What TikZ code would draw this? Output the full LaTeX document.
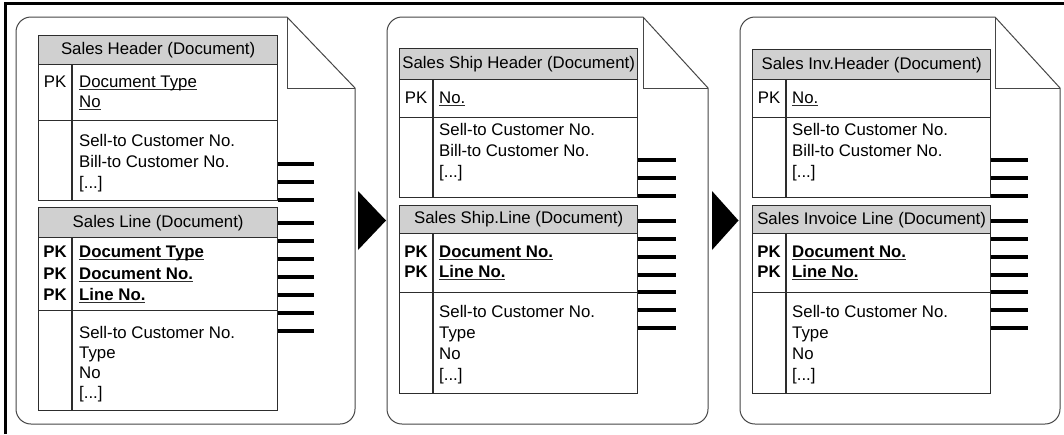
\documentclass[tikz,border=0pt]{standalone}
\usepackage{fontspec}
\setmainfont{Liberation Sans}
\usetikzlibrary{calc}
\definecolor{bandc}{RGB}{208,208,208}
\definecolor{tline}{RGB}{45,45,45}
\definecolor{dline}{RGB}{70,70,70}
\newcommand\ulx[1]{\sbox0{#1}\rlap{\textcolor{tline}{\rule[-2.6pt]{\wd0}{1.1pt}}}\usebox0}
\tikzset{
  fnt/.style={font=\fontsize{16.8}{20}\selectfont},
  band/.style={fnt,draw=tline,line width=1.3pt,fill=bandc,inner sep=0pt,anchor=north west},
  sect/.style={draw=tline,line width=1.3pt,inner sep=0pt,anchor=north west},
  divl/.style={draw=tline,line width=1.3pt},
  pk/.style={fnt,anchor=base,inner sep=0pt},
  fld/.style={fnt,anchor=base west,inner sep=0pt},
  stub/.style={draw=black,line width=4pt},
  doc/.style={draw=dline,line width=1pt},
  frame/.style={draw=black,line width=3pt},
  arr/.style={fill=black}
}
% #1 prefix, #2 left, #3 right, #4 top, #5 band bottom, #6 pk bottom, #7 bottom, #8 title
\newcommand\tablebox[8]{%
  \node[band,minimum width={#3-#2},minimum height={#5-#4}] (#1t) at (#2,#4) {#8};
  \node[sect,minimum width={#3-#2},minimum height={#6-#5}] (#1p) at (#2,#5) {};
  \node[sect,minimum width={#3-#2},minimum height={#7-#6}] (#1a) at (#2,#6) {};
  \draw[divl] ($(#1p.north west)+(34,0)$) -- ($(#1a.south west)+(34,0)$);
}
% #1 left, #2 fold x, #3 right
\newcommand\docshape[3]{%
  \draw[doc] (#1+15,17) -- (#2,17) -- (#3,88) -- (#3,409) arc(0:90:15) -- (#1+15,424) arc(90:180:15) -- (#1,32) arc(180:270:15) -- cycle;
  \draw[doc] (#2,17) -- (#2,88) -- (#3,88);
}
\begin{document}
\begin{tikzpicture}[x=1pt,y=-1pt]
\useasboundingbox (0,0) rectangle (1064,434);
\fill[white] (0,0) rectangle (1064,434);
% outer frame
\draw[frame] (5.5,434) -- (5.5,3.5) -- (1064,3.5);

% documents
\docshape{16}{287}{355}
\docshape{387}{643}{708}
\docshape{740}{995}{1060}

% arrows
\fill[arr] (358,191) -- (386,220.5) -- (358,250) -- cycle;
\fill[arr] (712,191) -- (738.5,220.5) -- (712,250) -- cycle;

% ---------- document 1 ----------
\tablebox{a}{38}{277}{35}{64}{120}{200}{Sales Header (Document)}
\node[pk] (akp) at (55,87) {PK};
\node[fld] (af1) at (79,87) {\ulx{Document Type}};
\node[fld] (af2) at (79,107) {\ulx{No}};
\node[fld] (aa1) at (79,146) {Sell-to Customer No.};
\node[fld] (aa2) at (79,167) {Bill-to Customer No.};
\node[fld] (aa3) at (79,188) {[...]};

\tablebox{b}{38}{277}{207}{237}{310}{410}{Sales Line (Document)}
\node[pk] (bk1) at (55,257) {\textbf{PK}};
\node[pk] (bk2) at (55,279) {\textbf{PK}};
\node[pk] (bk3) at (55,300) {\textbf{PK}};
\node[fld] (bf1) at (79,257) {\ulx{\textbf{Document Type}}};
\node[fld] (bf2) at (79,279) {\ulx{\textbf{Document No.}}};
\node[fld] (bf3) at (79,300) {\ulx{\textbf{Line No.}}};
\node[fld] (ba1) at (79,338) {Sell-to Customer No.};
\node[fld] (ba2) at (79,358) {Type};
\node[fld] (ba3) at (79,378) {No};
\node[fld] (ba4) at (79,398) {[...]};

\foreach \yy in {164,182,200} \draw[stub] (at.east |- 0,\yy) -- ++(36,0);
\foreach \yy in {223,241,259,277,295,313,331} \draw[stub] (bt.east |- 0,\yy) -- ++(36,0);

% ---------- document 2 ----------
\tablebox{c}{399}{637}{48}{79}{117}{197}{Sales Ship Header (Document)}
\node[pk] (ckp) at (416,103) {PK};
\node[fld] (cf1) at (439,103) {\ulx{No.}};
\node[fld] (ca1) at (439,135) {Sell-to Customer No.};
\node[fld] (ca2) at (439,156) {Bill-to Customer No.};
\node[fld] (ca3) at (439,177) {[...]};

\tablebox{d}{399}{637}{205}{233}{292}{393}{Sales Ship.Line (Document)}
\node[pk] (dk1) at (416,257) {\textbf{PK}};
\node[pk] (dk2) at (416,277) {\textbf{PK}};
\node[fld] (df1) at (439,257) {\ulx{\textbf{Document No.}}};
\node[fld] (df2) at (439,277) {\ulx{\textbf{Line No.}}};
\node[fld] (da1) at (439,317) {Sell-to Customer No.};
\node[fld] (da2) at (439,338) {Type};
\node[fld] (da3) at (439,359) {No};
\node[fld] (da4) at (439,380) {[...]};

\foreach \yy in {160,178,196} \draw[stub] (ct.east |- 0,\yy) -- ++(38,0);
\foreach \yy in {221,239,257,275,292,310,328} \draw[stub] (dt.east |- 0,\yy) -- ++(38,0);

% ---------- document 3 ----------
\tablebox{e}{752}{990}{49}{79}{117}{197}{Sales Inv.Header (Document)}
\node[pk] (ekp) at (769,103) {PK};
\node[fld] (ef1) at (792,103) {\ulx{No.}};
\node[fld] (ea1) at (792,135) {Sell-to Customer No.};
\node[fld] (ea2) at (792,156) {Bill-to Customer No.};
\node[fld] (ea3) at (792,177) {[...]};

\tablebox{f}{752}{990}{205}{233}{292}{393}{Sales Invoice Line (Document)}
\node[pk] (fk1) at (769,257) {\textbf{PK}};
\node[pk] (fk2) at (769,277) {\textbf{PK}};
\node[fld] (ff1) at (792,257) {\ulx{\textbf{Document No.}}};
\node[fld] (ff2) at (792,277) {\ulx{\textbf{Line No.}}};
\node[fld] (fa1) at (792,317) {Sell-to Customer No.};
\node[fld] (fa2) at (792,338) {Type};
\node[fld] (fa3) at (792,359) {No};
\node[fld] (fa4) at (792,380) {[...]};

\foreach \yy in {160,178,196} \draw[stub] (et.east |- 0,\yy) -- ++(37,0);
\foreach \yy in {221,239,257,275,292,310,328} \draw[stub] (ft.east |- 0,\yy) -- ++(37,0);
\end{tikzpicture}
\end{document}
